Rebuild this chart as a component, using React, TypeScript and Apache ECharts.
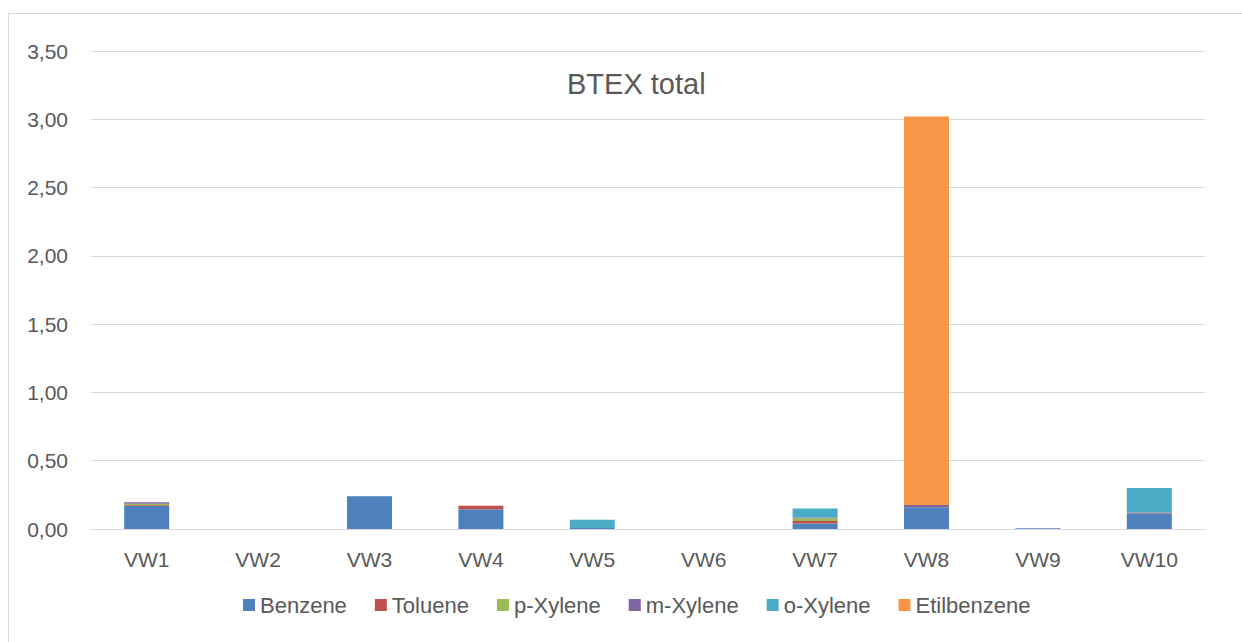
import React, { useEffect, useRef } from "react";
import * as echarts from "echarts";

const categories = ["VW1", "VW2", "VW3", "VW4", "VW5", "VW6", "VW7", "VW8", "VW9", "VW10"];
const benzene = [0.17, 0, 0.24, 0.145, 0.007, 0, 0.04, 0.16, 0.005, 0.115];
const toluene = [0.005, 0, 0, 0.025, 0, 0, 0.018, 0, 0, 0.005];
const pXylene = [0.01, 0, 0, 0, 0, 0, 0.02, 0, 0, 0];
const mXylene = [0.01, 0, 0, 0, 0, 0, 0.007, 0.015, 0, 0];
const oXylene = [0, 0, 0, 0, 0.06, 0, 0.065, 0, 0, 0.18];
const etilbenzene = [0, 0, 0, 0, 0, 0, 0, 2.845, 0, 0];

const seriesNames = ["Benzene", "Toluene", "p-Xylene", "m-Xylene", "o-Xylene", "Etilbenzene"];
const seriesData = [benzene, toluene, pXylene, mXylene, oXylene, etilbenzene];
const colors = ["#4F81BD", "#C0504D", "#9BBB59", "#8064A2", "#4BACC6", "#F79646"];

const FONT = "'Liberation Sans', Arial, sans-serif";

export default function App() {
  const ref = useRef<HTMLDivElement>(null);
  useEffect(() => {
    if (!ref.current) return;
    const chart = echarts.init(ref.current, undefined, { renderer: "svg" });
    chart.setOption({
      animation: false,
      backgroundColor: "#ffffff",
      textStyle: { fontFamily: FONT },
      title: {
        text: "BTEX total",
        left: 562,
        top: 64,
        textStyle: { fontFamily: FONT, fontSize: 29, fontWeight: "normal", color: "#595959" },
      },
      graphic: [
        {
          type: "rect",
          shape: { x: 8.5, y: 13.5, width: 1300, height: 700 },
          style: { fill: "none", stroke: "#d9d9d9", lineWidth: 1 },
          silent: true,
        },
      ],
      legend: {
        bottom: 21,
        left: 238,
        itemWidth: 12,
        itemHeight: 12,
        itemGap: 28,
        icon: "rect",
        textStyle: { fontFamily: FONT, fontSize: 22, color: "#595959" },
        data: seriesNames,
      },
      grid: { left: 91, right: 37, top: 51, bottom: 113, containLabel: false },
      xAxis: {
        type: "category",
        data: categories,
        axisLine: { lineStyle: { color: "#d9d9d9", width: 1 } },
        axisTick: { show: false },
        axisLabel: { fontFamily: FONT, fontSize: 21, color: "#595959", margin: 20 },
      },
      yAxis: {
        type: "value",
        min: 0,
        max: 3.5,
        interval: 0.5,
        axisLine: { show: false },
        axisTick: { show: false },
        splitLine: { lineStyle: { color: "#d9d9d9", width: 1 } },
        axisLabel: {
          fontFamily: FONT,
          fontSize: 21,
          color: "#595959",
          margin: 23,
          formatter: (v: number) => v.toFixed(2).replace(".", ","),
        },
      },
      series: seriesNames.map((name, i) => ({
        name,
        type: "bar",
        stack: "total",
        barWidth: 45,
        data: seriesData[i],
        itemStyle: { color: colors[i] },
      })),
    });
    return () => chart.dispose();
  }, []);
  return <div ref={ref} style={{ position: "fixed", left: 0, top: 0, width: 1242, height: 642 }} />;
}
